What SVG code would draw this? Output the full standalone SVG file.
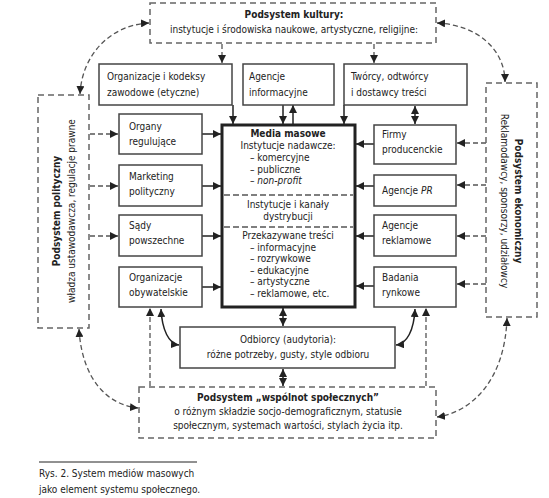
<svg xmlns="http://www.w3.org/2000/svg" width="549" height="498" viewBox="0 0 549 498">
<style>
text{font-family:"Liberation Sans Narrow","DejaVu Sans Condensed","Liberation Sans",sans-serif;font-size:10px;fill:#222}
.b{font-weight:bold}
.c{text-anchor:middle}
.i{font-style:italic}
.box{fill:#fff;stroke:#444;stroke-width:1.5}
.dbox{fill:#fff;stroke:#666;stroke-width:1.5;stroke-dasharray:6,4}
.media{fill:#fff;stroke:#222;stroke-width:3}
.sep{stroke:#555;stroke-width:1.3;stroke-dasharray:6,3;fill:none}
.s{stroke:#222;stroke-width:1.5;fill:none}
.d{stroke:#555;stroke-width:1.3;stroke-dasharray:5,3;fill:none}
</style>
<defs>
<marker id="a" viewBox="0 0 10 10" refX="10" refY="5" markerWidth="8" markerHeight="8" markerUnits="userSpaceOnUse" orient="auto-start-reverse">
<path d="M0,0 L10,5 L0,10 z" fill="#222"/>
</marker>
</defs>

<g id="connectors">
<line class="s" x1="233" y1="105" x2="233" y2="124" marker-end="url(#a)"/>
<line class="s" x1="283" y1="105" x2="283" y2="124" marker-end="url(#a)"/>
<line class="s" x1="293" y1="124" x2="293" y2="105" marker-end="url(#a)"/>
<line class="s" x1="344" y1="105" x2="344" y2="124" marker-end="url(#a)"/>
<line class="s" x1="415" y1="106" x2="415" y2="124" marker-start="url(#a)" marker-end="url(#a)"/>
<line class="s" x1="202" y1="134" x2="221" y2="134" marker-end="url(#a)"/>
<line class="s" x1="202" y1="186" x2="221" y2="186" marker-end="url(#a)"/>
<line class="s" x1="202" y1="236" x2="221" y2="236" stroke-width="1" marker-end="url(#a)"/>
<line class="s" x1="202" y1="287" x2="221" y2="287" marker-end="url(#a)"/>
<line class="s" x1="374" y1="144" x2="356" y2="144" marker-end="url(#a)"/>
<line class="s" x1="374" y1="186" x2="356" y2="186" marker-end="url(#a)"/>
<line class="s" x1="374" y1="236" x2="356" y2="236" stroke-width="1" marker-end="url(#a)"/>
<line class="s" x1="374" y1="286" x2="356" y2="286" marker-end="url(#a)"/>
<line class="s" x1="283" y1="308" x2="283" y2="326" marker-start="url(#a)" marker-end="url(#a)"/>
<line class="s" x1="283" y1="369" x2="283" y2="386" marker-start="url(#a)" marker-end="url(#a)"/>
<path class="s" d="M161,309 C162,330 169,344 179,345" marker-start="url(#a)" marker-end="url(#a)"/>
<path class="s" d="M415,309 C414,330 407,344 396,345" marker-start="url(#a)" marker-end="url(#a)"/>
<line class="d" x1="222" y1="44" x2="222" y2="63" marker-end="url(#a)"/>
<line class="d" x1="374" y1="44" x2="374" y2="63" marker-end="url(#a)"/>
<line class="d" x1="90" y1="134" x2="118" y2="134" marker-end="url(#a)" stroke-width="1.6"/>
<line class="d" x1="90" y1="186" x2="118" y2="186" marker-end="url(#a)"/>
<line class="d" x1="90" y1="236" x2="118" y2="236" marker-end="url(#a)" stroke-width="1"/>
<line class="d" x1="486" y1="143" x2="457" y2="143" marker-end="url(#a)" stroke-width="1.6"/>
<line class="d" x1="486" y1="185" x2="457" y2="185" marker-end="url(#a)" stroke-width="1.6"/>
<line class="d" x1="486" y1="236" x2="457" y2="236" marker-end="url(#a)" stroke-width="1"/>
<line class="d" x1="486" y1="284" x2="457" y2="284" marker-end="url(#a)"/>
<line class="d" x1="150" y1="386" x2="150" y2="308" marker-end="url(#a)"/>
<line class="d" x1="426" y1="386" x2="426" y2="308" marker-end="url(#a)"/>
<path class="d" d="M149,23 C110,25 82,55 80,94" marker-start="url(#a)" marker-end="url(#a)"/>
<path class="d" d="M437,23 C478,25 505,50 505,82" marker-start="url(#a)" marker-end="url(#a)"/>
<path class="d" d="M79,329 C82,380 108,405 138,408" marker-start="url(#a)" marker-end="url(#a)"/>
<path class="d" d="M507,318 C505,380 472,412 437,417" marker-start="url(#a)" marker-end="url(#a)"/>
</g>

<g id="kultura">
<rect class="dbox" x="150" y="3" width="286" height="40"/>
<text class="b c" x="294" y="18">Podsystem kultury:</text>
<text class="c" x="294" y="33">instytucje i środowiska naukowe, artystyczne, religijne:</text>
</g>

<g id="kodeksy">
<rect class="box" x="99" y="64" width="133" height="41"/>
<text x="107" y="80">Organizacje i kodeksy</text>
<text x="107" y="96">zawodowe (etyczne)</text>
</g>

<g id="agencje-inf">
<rect class="box" x="243" y="64" width="91" height="41"/>
<text x="249" y="80">Agencje</text>
<text x="249" y="96">informacyjne</text>
</g>

<g id="tworcy">
<rect class="box" x="344" y="64" width="123" height="41"/>
<text x="351" y="80">Twórcy, odtwórcy</text>
<text x="351" y="96">i dostawcy treści</text>
</g>

<g id="polityczny">
<rect class="dbox" x="38" y="95" width="51" height="233"/>
<text class="b c" transform="translate(60,211) rotate(-90)">Podsystem polityczny</text>
<text class="c" transform="translate(75,211) rotate(-90)">władza ustawodawcza, regulacje prawne</text>
</g>

<g id="ekonomiczny">
<rect class="dbox" x="486" y="83" width="51" height="234"/>
<text class="b c" transform="translate(515,201) rotate(90)">Podsystem ekonomiczny</text>
<text class="c" transform="translate(501,201) rotate(90)">Reklamodawcy, sponsorzy, udziałowcy</text>
</g>

<g id="organy">
<rect class="box" x="119" y="114" width="83" height="40"/>
<text x="129" y="130">Organy</text>
<text x="129" y="145">regulujące</text>
</g>
<g id="marketing">
<rect class="box" x="119" y="165" width="83" height="41"/>
<text x="129" y="180">Marketing</text>
<text x="129" y="195">polityczny</text>
</g>
<g id="sady">
<rect class="box" x="119" y="215" width="83" height="41"/>
<text x="129" y="229">Sądy</text>
<text x="129" y="244">powszechne</text>
</g>
<g id="obywatelskie">
<rect class="box" x="119" y="267" width="83" height="40"/>
<text x="129" y="281">Organizacje</text>
<text x="129" y="296">obywatelskie</text>
</g>

<g id="media">
<rect class="media" x="222" y="125" width="133" height="182"/>
<text class="b c" x="288" y="137">Media masowe</text>
<text class="c" x="288" y="149">Instytucje nadawcze:</text>
<text x="250" y="161">– komercyjne</text>
<text x="250" y="172.5">– publiczne</text>
<text x="250" y="184">– <tspan class="i">non-profit</tspan></text>
<line class="sep" x1="224" y1="195" x2="353" y2="195"/>
<text class="c" x="288" y="208">Instytucje i kanały</text>
<text class="c" x="288" y="220">dystrybucji</text>
<line class="sep" x1="224" y1="227" x2="353" y2="227"/>
<text class="c" x="288" y="239">Przekazywane treści</text>
<text x="250" y="250.5">– informacyjne</text>
<text x="250" y="262">– rozrywkowe</text>
<text x="250" y="273.5">– edukacyjne</text>
<text x="250" y="285">– artystyczne</text>
<text x="250" y="296.5">– reklamowe, etc.</text>
</g>

<g id="firmy">
<rect class="box" x="374" y="125" width="82" height="39"/>
<text x="382" y="138">Firmy</text>
<text x="382" y="153">producenckie</text>
</g>
<g id="agencje-pr">
<rect class="box" x="374" y="175" width="82" height="31"/>
<text x="382" y="194">Agencje <tspan class="i">PR</tspan></text>
</g>
<g id="agencje-rekl">
<rect class="box" x="374" y="215" width="82" height="41"/>
<text x="382" y="229">Agencje</text>
<text x="382" y="244">reklamowe</text>
</g>
<g id="badania">
<rect class="box" x="374" y="267" width="82" height="40"/>
<text x="382" y="281">Badania</text>
<text x="382" y="296">rynkowe</text>
</g>

<g id="odbiorcy">
<rect class="box" x="180" y="327" width="215" height="41"/>
<text class="c" x="288" y="343">Odbiorcy (audytoria):</text>
<text class="c" x="288" y="358">różne potrzeby, gusty, style odbioru</text>
</g>

<g id="wspolnoty">
<rect class="dbox" x="139" y="387" width="297" height="51"/>
<text class="b c" x="288" y="401">Podsystem „wspólnot społecznych”</text>
<text class="c" x="288" y="415">o różnym składzie socjo-demograficznym, statusie</text>
<text class="c" x="288" y="429">społecznym, systemach wartości, stylach życia itp.</text>
</g>

<g id="caption">
<line x1="39" y1="462" x2="197" y2="462" stroke="#222" stroke-width="1"/>
<text x="39" y="477">Rys. 2. System mediów masowych</text>
<text x="39" y="493">jako element systemu społecznego.</text>
</g>
</svg>
